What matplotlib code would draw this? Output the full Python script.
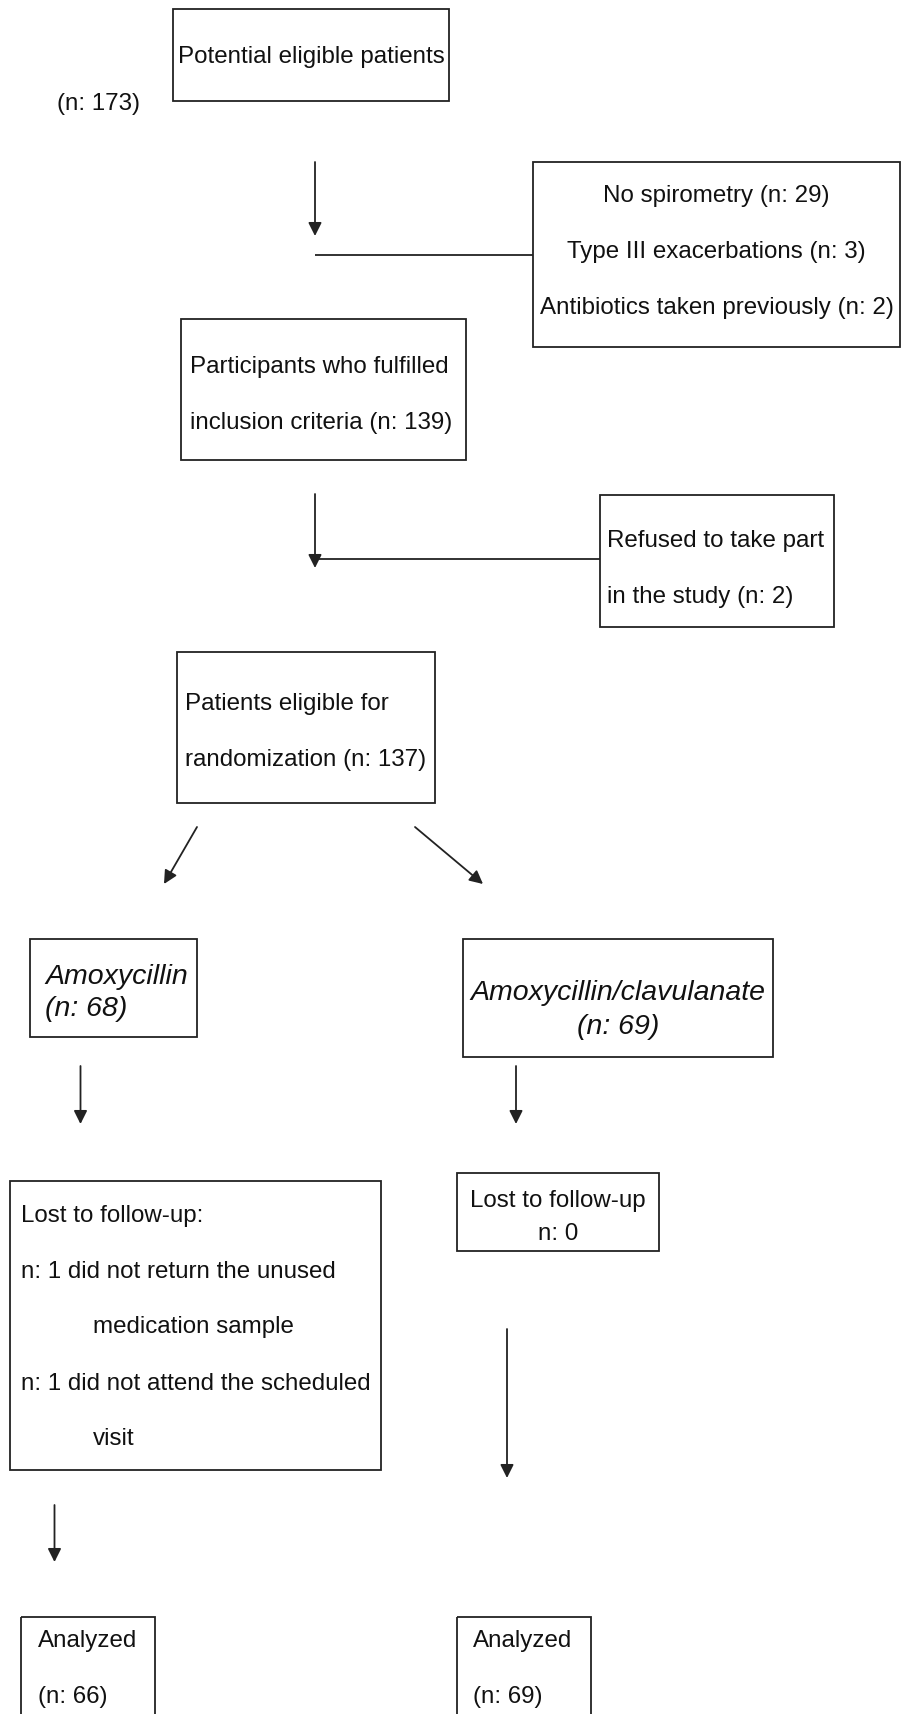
import matplotlib
matplotlib.use('Agg')
import matplotlib.pyplot as plt
from matplotlib.patches import Rectangle

# --- Dados do fluxograma ---
n_potential = 173
excl_reasons = ["No spirometry", "Type III exacerbations", "Antibiotics taken previously"]
excl_n = [29, 3, 2]
n_fulfilled = 139
n_refused = 2
n_eligible = 137
arms = ["Amoxycillin", "Amoxycillin/clavulanate"]
arm_n = [68, 69]
lost_reasons = ["did not return the unused", "did not attend the scheduled"]
lost_tail = ["medication sample", "visit"]
lost_n_arm1 = [1, 1]
lost_n_arm2 = 0
analyzed_n = [66, 69]

# --- Estilo ---
plt.rcParams['font.family'] = ['Liberation Sans', 'DejaVu Sans']
FS = 17.4
FS_IT = 20.5
LC = '#222222'
LW = 1.3

fig = plt.figure(figsize=(9.02, 17.14), dpi=100)
ax = fig.add_axes([0, 0, 1, 1])
ax.set_xlim(0, 902)
ax.set_ylim(1714, 0)
ax.axis('off')


def box(x0, y0, x1, y1):
    ax.add_patch(Rectangle((x0, y0), x1 - x0, y1 - y0, fill=False, ec=LC, lw=LW))


def txt(x, y, s, ha='left', fs=FS, style='normal'):
    ax.text(x, y, s, ha=ha, va='baseline', fontsize=fs, style=style, color='#111111')


def arrow(x0, y0, x1, y1):
    ax.annotate('', xy=(x1, y1), xytext=(x0, y0),
                arrowprops=dict(arrowstyle='-|>', lw=LW, color=LC,
                                mutation_scale=20, shrinkA=0, shrinkB=0))


def line(x0, y0, x1, y1):
    ax.plot([x0, x1], [y0, y1], color=LC, lw=LW, solid_capstyle='butt')


# --- Topo ---
box(173, 9, 449, 101)
txt(311, 62.5, "Potential eligible patients", ha='center')
txt(57, 110, f"(n: {n_potential})")

arrow(315, 162, 315, 236)
line(315, 255, 533, 255)
box(533, 162, 900, 347)
for i, (r, n) in enumerate(zip(excl_reasons, excl_n)):
    txt(716.5, 202 + i * 56, f"{r} (n: {n})", ha='center')

box(181, 319, 466, 460)
txt(190, 372.5, "Participants who fulfilled")
txt(190, 429, f"inclusion criteria (n: {n_fulfilled})")

arrow(315, 494, 315, 568)
line(315, 559, 600, 559)
box(600, 495, 834, 627)
txt(607, 547, "Refused to take part")
txt(607, 602.5, f"in the study (n: {n_refused})")

box(177, 652, 435, 803)
txt(185, 709.5, "Patients eligible for")
txt(185, 766, f"randomization (n: {n_eligible})")

# --- Braços ---
arrow(197, 827, 164, 884)
arrow(415, 827, 483, 884)

box(30, 939, 197, 1037)
txt(45, 983.5, arms[0], fs=FS_IT, style='italic')
txt(45, 1016, f"(n: {arm_n[0]})", fs=FS_IT, style='italic')

box(463, 939, 773, 1057)
txt(618, 1000, arms[1], ha='center', fs=FS_IT, style='italic')
txt(618, 1034.5, f"(n: {arm_n[1]})", ha='center', fs=FS_IT, style='italic')

arrow(80.5, 1066, 80.5, 1124)
arrow(516, 1066, 516, 1124)

# --- Perdas ---
box(10, 1181, 381, 1470)
txt(21, 1222, "Lost to follow-up:")
for i, (r, t, n) in enumerate(zip(lost_reasons, lost_tail, lost_n_arm1)):
    txt(21, 1278 + i * 111.5, f"n: {n} {r}")
    txt(93, 1333.5 + i * 111.5, t)

box(457, 1173, 659, 1251)
txt(558, 1207, "Lost to follow-up", ha='center')
txt(558, 1239.5, f"n: {lost_n_arm2}", ha='center')

arrow(507, 1329, 507, 1478)
arrow(54.5, 1505, 54.5, 1562)

# --- Analisados ---
box(21, 1617, 155, 1760)
txt(38, 1646.5, "Analyzed")
txt(38, 1703.5, f"(n: {analyzed_n[0]})")

box(457, 1617, 591, 1760)
txt(473, 1646.5, "Analyzed")
txt(473, 1703.5, f"(n: {analyzed_n[1]})")

fig.savefig('out.png', dpi=100, facecolor='white')
